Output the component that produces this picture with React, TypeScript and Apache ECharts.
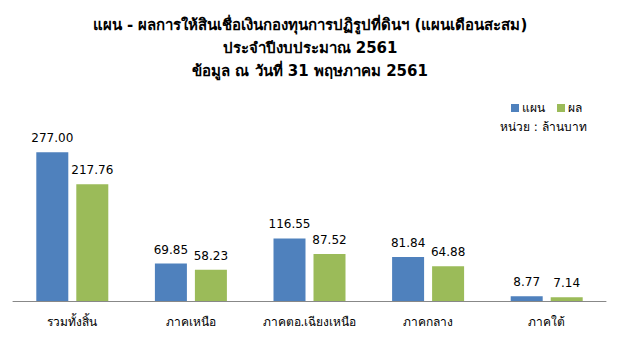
import React, { useEffect, useRef } from "react";
import * as echarts from "echarts";

const categories = ["รวมทั้งสิ้น", "ภาคเหนือ", "ภาคตอ.เฉียงเหนือ", "ภาคกลาง", "ภาคใต้"];
const planValues = [277.0, 69.85, 116.55, 81.84, 8.77];
const actualValues = [217.76, 58.23, 87.52, 64.88, 7.14];
const seriesNames = ["แผน", "ผล"];
const titleLines = [
  "แผน - ผลการให้สินเชื่อเงินกองทุนการปฏิรูปที่ดินฯ (แผนเดือนสะสม)",
  "ประจำปีงบประมาณ 2561",
  "ข้อมูล ณ วันที่ 31 พฤษภาคม 2561",
];
const unitText = "หน่วย : ล้านบาท";

const FONT = "Tahoma, 'DejaVu Sans', 'Noto Sans', sans-serif";

export default function App() {
  const ref = useRef<HTMLDivElement>(null);
  useEffect(() => {
    if (!ref.current) return;
    const chart = echarts.init(ref.current, null, { renderer: "svg" });
    const titleGraphics = titleLines.map((t, i) => ({
      type: "text",
      x: 310,
      y: 25 + i * 23,
      style: {
        text: t,
        font: `bold 15px ${FONT}`,
        fill: "#000",
        align: "center",
        verticalAlign: "middle",
      },
    }));
    chart.setOption({
      animation: false,
      backgroundColor: "#ffffff",
      legend: {
        data: seriesNames,
        left: 506,
        top: 97,
        itemWidth: 8,
        itemHeight: 8,
        itemGap: 12,
        icon: "rect",
        textStyle: { fontFamily: FONT, fontSize: 12, color: "#000", padding: [0, 0, 0, -2] },
      },
      graphic: [
        ...titleGraphics,
        {
          type: "text",
          left: 500,
          top: 121,
          style: { text: unitText, font: `12px ${FONT}`, fill: "#000" },
        },
        {
          type: "line",
          shape: { x1: 0, y1: 1, x2: 620, y2: 1 },
          style: { stroke: "#8c8c8c", lineWidth: 2 },
        },
        {
          type: "line",
          shape: { x1: 0, y1: 342, x2: 620, y2: 342 },
          style: { stroke: "#8c8c8c", lineWidth: 2 },
        },
      ],
      grid: { left: 13, right: 14, top: 140, bottom: 43 },
      xAxis: {
        type: "category",
        data: categories,
        axisLine: { lineStyle: { color: "#888888", width: 1 } },
        axisTick: { show: false },
        axisLabel: { fontFamily: FONT, fontSize: 12, color: "#000", margin: 15, interval: 0 },
      },
      yAxis: {
        type: "value",
        min: 0,
        max: 300,
        show: false,
        splitLine: { show: false },
      },
      series: [
        {
          name: seriesNames[0],
          type: "bar",
          data: planValues,
          barWidth: 32,
          barGap: "25%",
          itemStyle: { color: "#4F81BD" },
          label: {
            show: true,
            position: "top",
            distance: 8,
            formatter: (p: any) => p.value.toFixed(2),
            fontFamily: FONT,
            fontSize: 12,
            color: "#000",
          },
        },
        {
          name: seriesNames[1],
          type: "bar",
          data: actualValues,
          barWidth: 32,
          barGap: "25%",
          itemStyle: { color: "#9BBB59" },
          label: {
            show: true,
            position: "top",
            distance: 8,
            formatter: (p: any) => p.value.toFixed(2),
            fontFamily: FONT,
            fontSize: 12,
            color: "#000",
          },
        },
      ],
    });
    return () => chart.dispose();
  }, []);
  return <div ref={ref} style={{ width: 620, height: 344, margin: -8 }} />;
}
